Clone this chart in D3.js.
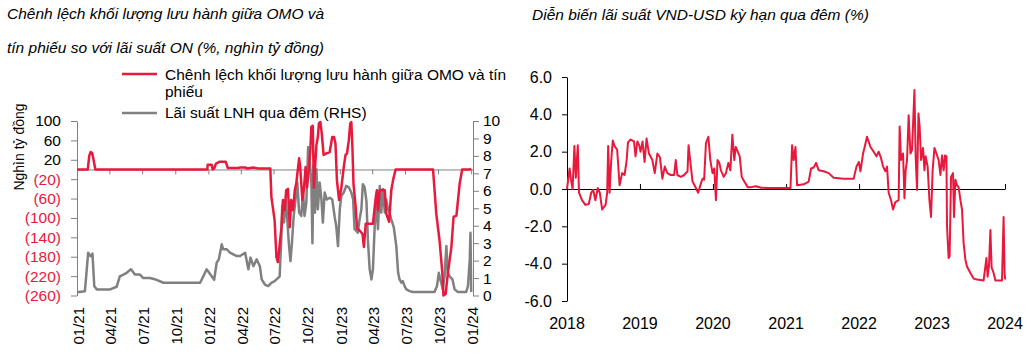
<!DOCTYPE html>
<html><head><meta charset="utf-8">
<script src="https://cdn.jsdelivr.net/npm/d3@7"></script>
<style>
body{margin:0;background:#fff;}
svg text{font-family:"Liberation Sans Narrow","Arial Narrow","Liberation Sans",Arial,sans-serif;}
</style></head><body>
<svg id="c" width="1031" height="357"></svg>
<script>
// ---------- DATA ----------
const omoDates = ["2021-01-01","2021-01-31","2021-02-04","2021-02-08","2021-02-12","2021-02-16","2021-02-21","2021-12-29","2021-12-30","2022-01-10","2022-01-13","2022-01-17","2022-01-22","2022-02-02","2022-02-18","2022-02-24","2022-03-25","2022-03-30","2022-04-13","2022-04-20","2022-05-05","2022-05-20","2022-06-22","2022-06-25","2022-07-04","2022-07-09","2022-07-13","2022-07-23","2022-07-27","2022-08-01","2022-08-05","2022-08-10","2022-08-15","2022-08-19","2022-08-24","2022-08-29","2022-09-02","2022-09-10","2022-09-13","2022-09-19","2022-09-23","2022-09-28","2022-10-02","2022-10-07","2022-10-11","2022-10-14","2022-10-18","2022-10-21","2022-10-25","2022-10-28","2022-11-01","2022-11-04","2022-11-08","2022-11-12","2022-11-17","2022-11-25","2022-12-04","2022-12-11","2022-12-16","2022-12-20","2022-12-24","2022-12-30","2023-01-05","2023-01-12","2023-01-17","2023-01-21","2023-01-26","2023-01-30","2023-02-02","2023-02-05","2023-02-08","2023-02-14","2023-02-18","2023-02-25","2023-03-05","2023-03-09","2023-03-14","2023-04-03","2023-04-11","2023-04-14","2023-04-17","2023-04-22","2023-05-06","2023-05-10","2023-05-18","2023-05-24","2023-05-29","2023-06-05","2023-09-17","2023-09-26","2023-10-05","2023-10-13","2023-10-16","2023-10-22","2023-10-28","2023-11-07","2023-11-13","2023-11-21","2023-11-30","2023-12-07","2023-12-28","2024-01-01"];
const omoValues = [0,0,28,36,34,20,0,0,10,10,0,2,12,16,16,3,3,4,4,2,4,2,2,-57,-105,-181,-191,-119,-63,-84,-43,-40,-119,-63,-84,-43,-29,23,5,-63,-43,5,-37,0,40,88,90,-37,12,50,67,95,98,74,30,33,36,67,67,53,-22,-63,-40,5,30,33,60,95,98,47,-29,-77,-122,-126,-133,-160,-112,-112,-57,-43,-84,-43,-43,-91,-108,-43,-22,0,0,-91,-146,-215,-260,-257,-215,-160,-98,-95,-29,0,0,2];

const lnhDates = ["2021-01-01","2021-01-23","2021-02-01","2021-02-08","2021-02-13","2021-02-18","2021-02-25","2021-04-03","2021-04-21","2021-04-30","2021-05-10","2021-05-19","2021-05-31","2021-06-11","2021-06-25","2021-07-04","2021-07-23","2021-08-10","2021-08-29","2021-09-26","2021-12-09","2021-12-18","2021-12-27","2022-01-03","2022-01-10","2022-01-17","2022-01-24","2022-01-30","2022-02-07","2022-02-11","2022-02-21","2022-03-02","2022-03-21","2022-03-30","2022-04-13","2022-04-22","2022-04-28","2022-05-06","2022-05-15","2022-05-24","2022-05-29","2022-06-07","2022-06-16","2022-06-25","2022-07-04","2022-07-13","2022-07-18","2022-07-23","2022-07-25","2022-07-30","2022-08-04","2022-08-08","2022-08-13","2022-08-17","2022-08-21","2022-08-26","2022-08-31","2022-09-05","2022-09-10","2022-09-16","2022-09-21","2022-09-25","2022-09-30","2022-10-05","2022-10-09","2022-10-14","2022-10-17","2022-10-20","2022-10-24","2022-10-28","2022-11-01","2022-11-06","2022-11-11","2022-11-15","2022-11-20","2022-11-26","2022-12-04","2022-12-11","2022-12-18","2022-12-22","2022-12-27","2023-01-01","2023-01-05","2023-01-12","2023-01-19","2023-01-26","2023-02-02","2023-02-07","2023-02-11","2023-02-16","2023-02-20","2023-02-25","2023-03-02","2023-03-06","2023-03-11","2023-03-16","2023-03-20","2023-03-25","2023-03-30","2023-04-03","2023-04-08","2023-04-12","2023-04-17","2023-04-22","2023-04-26","2023-05-01","2023-05-06","2023-05-10","2023-05-15","2023-05-19","2023-05-24","2023-05-31","2023-06-07","2023-06-12","2023-06-16","2023-06-21","2023-06-25","2023-06-30","2023-07-05","2023-07-14","2023-07-23","2023-08-20","2023-09-21","2023-09-28","2023-10-03","2023-10-07","2023-10-11","2023-10-14","2023-10-19","2023-10-24","2023-10-28","2023-11-02","2023-11-10","2023-11-16","2023-11-25","2023-12-18","2023-12-23","2023-12-28","2023-12-30","2024-01-01"];
const lnhValues = [0.19,0.25,2.45,2.25,2.4,0.53,0.35,0.35,0.5,1.1,1.2,1.3,1.5,1.2,1.2,1.0,1.0,0.9,0.73,0.73,0.73,1.1,1.5,1.3,1.1,0.9,1.88,2.07,2.93,2.65,2.65,2.45,2.26,2.26,2.45,1.5,2.17,1.68,2.07,1.68,0.92,0.63,0.54,0.73,0.82,1.0,1.1,3.6,5.13,4.18,5.5,4.37,2.83,1.97,3.0,4.56,5.5,6.48,4.75,4.56,5.9,4.56,5.3,8.5,7.8,6.48,3.0,7.43,4.75,7.24,4.94,6.48,5.5,4.18,5.9,5.5,5.6,5.5,4.47,4.0,2.83,4.94,5.7,5.9,6.28,6.2,5.9,5.5,3.8,3.7,3.6,4.37,4.94,6.38,6.2,5.4,3.2,1.5,0.92,1.5,4.0,5.5,3.8,6.28,4.75,6.1,4.75,5.5,4.94,4.75,4.37,3.9,2.83,1.3,0.92,0.73,0.82,0.54,0.35,0.25,0.2,0.2,0.2,0.54,1.3,0.92,0.63,0.35,1.1,2.83,1.3,1.1,0.92,0.35,0.2,0.2,0.54,2.07,3.6,0.2];

const spreadDates = ["2018-01-01","2018-01-14","2018-01-21","2018-01-29","2018-02-07","2018-02-14","2018-02-24","2018-03-02","2018-03-17","2018-04-03","2018-04-20","2018-05-02","2018-05-12","2018-05-23","2018-06-04","2018-06-14","2018-06-26","2018-07-13","2018-07-21","2018-07-26","2018-08-02","2018-08-10","2018-08-18","2018-08-27","2018-09-09","2018-09-21","2018-10-04","2018-10-16","2018-10-26","2018-11-02","2018-11-15","2018-12-02","2018-12-10","2018-12-19","2018-12-28","2019-01-04","2019-01-14","2019-01-24","2019-02-03","2019-02-15","2019-03-04","2019-03-16","2019-03-29","2019-04-11","2019-04-23","2019-05-05","2019-05-18","2019-06-04","2019-06-21","2019-06-29","2019-07-07","2019-07-24","2019-08-10","2019-08-27","2019-09-01","2019-09-09","2019-09-21","2019-10-08","2019-10-19","2019-11-02","2019-11-10","2019-11-18","2019-11-27","2019-12-09","2019-12-19","2019-12-30","2020-01-08","2020-01-16","2020-01-24","2020-02-02","2020-02-10","2020-02-24","2020-03-06","2020-03-18","2020-03-28","2020-04-07","2020-04-17","2020-04-24","2020-05-04","2020-05-14","2020-05-24","2020-06-06","2020-06-23","2020-07-10","2020-08-04","2020-08-29","2020-10-01","2020-12-07","2021-01-23","2021-01-31","2021-02-08","2021-02-17","2021-02-25","2021-03-30","2021-04-24","2021-05-06","2021-05-19","2021-05-31","2021-06-13","2021-07-08","2021-08-02","2021-08-27","2021-10-16","2021-12-05","2021-12-19","2021-12-31","2022-01-08","2022-01-21","2022-01-29","2022-02-10","2022-02-27","2022-03-15","2022-03-29","2022-04-09","2022-04-21","2022-05-01","2022-05-13","2022-05-21","2022-05-29","2022-06-10","2022-06-20","2022-07-02","2022-07-18","2022-07-23","2022-07-30","2022-08-09","2022-08-16","2022-08-22","2022-08-29","2022-09-06","2022-09-15","2022-09-23","2022-10-05","2022-10-11","2022-10-18","2022-10-25","2022-10-31","2022-11-07","2022-11-17","2022-11-24","2022-11-30","2022-12-10","2022-12-19","2022-12-27","2023-01-04","2023-01-13","2023-01-23","2023-02-03","2023-02-12","2023-02-20","2023-02-28","2023-03-07","2023-03-14","2023-03-17","2023-03-25","2023-03-30","2023-04-06","2023-04-16","2023-04-21","2023-04-28","2023-05-06","2023-05-14","2023-05-23","2023-05-31","2023-06-08","2023-06-17","2023-06-25","2023-07-12","2023-07-28","2023-08-14","2023-09-16","2023-09-30","2023-10-06","2023-10-13","2023-10-20","2023-10-26","2023-11-05","2023-11-14","2023-12-17","2023-12-25","2023-12-30","2024-01-02"];
const spreadValues = [0.0,1.1,0.5,0.0,2.3,0.6,2.35,-0.2,-0.6,-0.85,-0.8,-0.2,-0.05,-0.6,0.05,-0.2,-1.1,-0.85,-0.2,2.3,-0.2,1.5,2.6,2.3,2.1,0.2,0.85,0.75,1.5,2.5,2.65,2.55,1.75,2.55,2.35,2.0,2.55,1.45,2.7,1.9,1.55,0.85,1.9,1.7,0.55,1.2,0.85,0.75,0.75,1.55,0.75,0.65,0.75,0.95,2.35,1.55,0.4,0.05,-0.2,0.3,0.55,0.5,2.45,2.8,1.55,0.85,1.1,-0.6,1.55,1.4,1.0,0.65,0.85,1.4,1.0,2.9,1.55,2.25,2.0,1.75,0.65,0.4,0.1,0.1,0.15,0.07,0.05,0.05,0.05,2.35,1.55,2.25,0.2,0.25,0.4,1.1,1.15,1.4,1.0,0.95,0.85,0.6,0.55,0.55,1.2,1.45,0.95,1.9,2.25,2.8,2.25,2.0,1.75,2.0,1.65,1.2,0.95,1.2,-0.2,-0.6,-1.1,-0.7,-0.6,3.35,1.55,1.9,-0.5,1.0,1.55,3.95,1.9,2.1,5.3,1.75,-0.05,4.05,3.35,1.55,2.2,1.0,1.75,1.2,-0.6,-1.5,1.0,2.2,1.9,1.55,0.75,1.8,1.0,1.8,1.75,-2.0,-3.7,-3.6,0.65,0.85,-1.5,0.5,0.2,0.1,-0.6,-1.1,-2.9,-3.8,-4.15,-4.5,-4.8,-4.85,-4.9,-3.7,-4.7,-4.1,-2.2,-4.2,-4.5,-4.9,-4.9,-1.5,-4.5,-4.85];

const leftTicks = [100,60,20,-20,-60,-100,-140,-180,-220,-260];
const rhsTicks = [0,1,2,3,4,5,6,7,8,9,10];
const quarterTicks = ["2021-01-01","2021-04-01","2021-07-01","2021-10-01","2022-01-01","2022-04-01","2022-07-01","2022-10-01","2023-01-01","2023-04-01","2023-07-01","2023-10-01","2024-01-01"];
const yearTicks = ["2018","2019","2020","2021","2022","2023","2024"];
const spreadTicks = [6,4,2,0,-2,-4,-6];

const titleLeft = ["Chênh lệch khối lượng lưu hành giữa OMO và","tín phiếu so với lãi suất ON (%, nghìn tỷ đồng)"];
const titleRight = "Diễn biến lãi suất VND-USD kỳ hạn qua đêm (%)";
const legendRed = ["Chênh lệch khối lượng lưu hành giữa OMO và tín","phiếu"];
const legendGray = "Lãi suất LNH qua đêm (RHS)";
const yTitle = "Nghìn tỷ đồng";

// ---------- DRAW ----------
const RED = "#e8193c", GRAY = "#808080";
const parse = d3.timeParse("%Y-%m-%d");
const svg = d3.select("#c");

// Titles
svg.append("text").attr("x",7).attr("y",19).attr("font-size",15.5).attr("font-style","italic").text(titleLeft[0]);
svg.append("text").attr("x",7).attr("y",53).attr("font-size",15.5).attr("font-style","italic").text(titleLeft[1]);
svg.append("text").attr("x",532).attr("y",20).attr("font-size",15.5).attr("font-style","italic").text(titleRight);

// Left chart scales
const xL = d3.scaleTime().domain([parse("2021-01-01"), parse("2024-01-06")]).range([77, 473]);
const yL = d3.scaleLinear().domain([-260, 100]).range([295.5, 121]);
const yR = d3.scaleLinear().domain([0, 10]).range([295.5, 121]);

// zero line with quarter ticks
const gx = svg.append("g").attr("transform", `translate(0,${yL(0)})`)
  .call(d3.axisBottom(xL).tickValues(quarterTicks.map(parse)).tickSize(5).tickSizeOuter(0).tickFormat(""));
gx.select(".domain").attr("stroke", "#808080");
gx.selectAll(".tick line").attr("stroke", "#808080");

// quarter labels at bottom
svg.append("g").selectAll("text").data(quarterTicks.map(parse)).join("text")
  .attr("transform", d => `translate(${xL(d)+1.5},307) rotate(-90)`)
  .attr("text-anchor", "end").attr("dy", "0.35em").attr("font-size", 15)
  .text(d3.timeFormat("%m/%y"));

// left axis
const gyl = svg.append("g").attr("transform", "translate(77,0)")
  .call(d3.axisLeft(yL).tickValues(leftTicks).tickSize(6).tickSizeOuter(0)
    .tickFormat(d => d < 0 ? `(${-d})` : d));
gyl.select(".domain").attr("stroke", "#808080");
gyl.selectAll(".tick line").attr("stroke", "#808080");
gyl.selectAll(".tick text").attr("font-size", 15.5).attr("x", -16)
  .attr("fill", d => d < 0 ? RED : "#000");

// right axis
const gyr = svg.append("g").attr("transform", "translate(473,0)")
  .call(d3.axisRight(yR).tickValues(rhsTicks).tickSize(6).tickSizeOuter(0));
gyr.select(".domain").attr("stroke", "#808080");
gyr.selectAll(".tick line").attr("stroke", "#808080");
gyr.selectAll(".tick text").attr("font-size", 15.5).attr("x", 10).attr("fill", "#000");

// y title
svg.append("text").attr("transform", "translate(24,147) rotate(-90)")
  .attr("text-anchor", "middle").attr("font-size", 14).text(yTitle);

// lines
const lnhData = lnhDates.map((d,i) => ({d: parse(d), v: lnhValues[i]}));
const omoData = omoDates.map((d,i) => ({d: parse(d), v: omoValues[i]}));
svg.append("path").datum(lnhData).attr("fill","none").attr("stroke",GRAY).attr("stroke-width",2.5)
  .attr("stroke-linejoin","round")
  .attr("d", d3.line().x(p => xL(p.d)).y(p => yR(p.v)));
svg.append("path").datum(omoData).attr("fill","none").attr("stroke",RED).attr("stroke-width",2.5)
  .attr("stroke-linejoin","round")
  .attr("d", d3.line().x(p => xL(p.d)).y(p => yL(p.v)));

// legend
svg.append("line").attr("x1",122).attr("x2",157).attr("y1",74).attr("y2",74).attr("stroke",RED).attr("stroke-width",2.5);
svg.append("text").attr("x",165).attr("y",80).attr("font-size",15.5).text(legendRed[0]);
svg.append("text").attr("x",165).attr("y",97).attr("font-size",15.5).text(legendRed[1]);
svg.append("line").attr("x1",122).attr("x2",157).attr("y1",113).attr("y2",113).attr("stroke",GRAY).attr("stroke-width",2.5);
svg.append("text").attr("x",165).attr("y",118).attr("font-size",15.5).text(legendGray);

// Right chart
const x2 = d3.scaleTime().domain([parse("2018-01-01"), parse("2024-01-01")]).range([567, 1005]);
const y2 = d3.scaleLinear().domain([-6, 6]).range([301, 77]);

const gx2 = svg.append("g").attr("transform", `translate(0,${y2(0)})`)
  .call(d3.axisTop(x2).tickValues(yearTicks.map(y => parse(y + "-01-01"))).tickSize(5).tickSizeOuter(0).tickFormat(""));
gx2.selectAll("path,line").attr("stroke", "#000");

svg.append("g").selectAll("text").data(yearTicks).join("text")
  .attr("x", d => x2(parse(d + "-01-01"))).attr("y", 329)
  .attr("text-anchor", "middle").attr("font-size", 16).text(d => d);

const gy2 = svg.append("g").attr("transform", "translate(567,0)")
  .call(d3.axisLeft(y2).tickValues(spreadTicks).tickSize(5).tickSizeOuter(0).tickFormat(d => d.toFixed(1)));
gy2.selectAll("path,line").attr("stroke", "#000");
gy2.selectAll(".tick text").attr("font-size", 16).attr("x", -15).attr("fill", "#000");

const spreadData = spreadDates.map((d,i) => ({d: parse(d), v: spreadValues[i]}));
svg.append("path").datum(spreadData).attr("fill","none").attr("stroke",RED).attr("stroke-width",2)
  .attr("stroke-linejoin","round")
  .attr("d", d3.line().x(p => x2(p.d)).y(p => y2(p.v)));
</script>
</body></html>
